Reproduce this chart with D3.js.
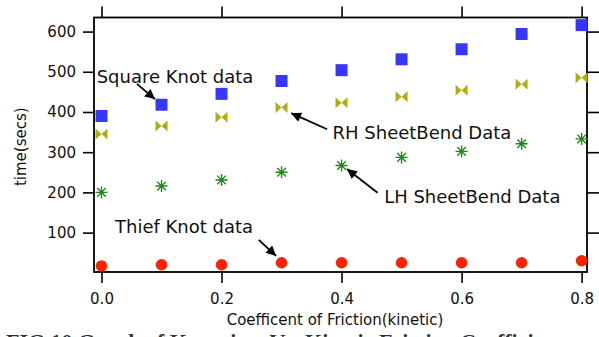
<!DOCTYPE html>
<html>
<head>
<meta charset="utf-8">
<script src="https://cdn.jsdelivr.net/npm/d3@7"></script>
<style>
  body { margin: 0; background: #fff; }
  svg { display: block; }
  text { font-family: "DejaVu Sans", sans-serif; }
</style>
</head>
<body>
<div id="chart"></div>
<script>
// knot time vs coefficient of friction

var coeff = [0.0, 0.1, 0.2, 0.3, 0.4, 0.5, 0.6, 0.7, 0.8];
var squareKnot = [390, 418, 445, 477, 504, 531, 556, 594, 616];
var rhSheetBend = [345, 365, 387, 411, 423, 438, 454, 469, 485];
var lhSheetBend = [200, 216, 231, 250, 267, 287, 302, 321, 333];
var thiefKnot = [17, 20, 20, 25, 25, 25, 25, 25, 30];

var xTicks = [0.0, 0.2, 0.4, 0.6, 0.8];
var yTicks = [100, 200, 300, 400, 500, 600];

// labels + arrows, in data units
var notes = [
  { text: "Square Knot data", x: -0.008, y: 472, from: [0.059, 470], to: [0.089, 432] },
  { text: "RH SheetBend Data", x: 0.385, y: 334, from: [0.376, 357], to: [0.316, 397] },
  { text: "LH SheetBend Data", x: 0.471, y: 173, from: [0.46, 199], to: [0.409, 258] },
  { text: "Thief Knot data", x: 0.0225, y: 98, from: [0.262, 82], to: [0.291, 42] }
];

var svgWidth = 599;
var svgHeight = 337;

var plot = { left: 94, right: 587, top: 17.5, bottom: 272 };

var svg = d3.select("#chart")
  .append("svg")
  .attr("width", svgWidth)
  .attr("height", svgHeight);

var x = d3.scaleLinear()
  .domain([-0.0125, 0.809])
  .range([plot.left, plot.right]);

var y = d3.scaleLinear()
  .domain([2, 635])
  .range([plot.bottom, plot.top]);

// axes
var bottomAxis = d3.axisBottom(x).tickValues(xTicks).tickSize(11).tickPadding(10).tickFormat(d3.format(".1f"));
var topAxis = d3.axisTop(x).tickValues(xTicks).tickSize(11).tickFormat("");
var leftAxis = d3.axisLeft(y).tickValues(yTicks).tickSize(11).tickPadding(7).tickFormat(d3.format("d"));
var rightAxis = d3.axisRight(y).tickValues(yTicks).tickSize(13).tickFormat("");

function styleAxis(g) {
  g.select(".domain").remove();
  g.selectAll(".tick line").attr("stroke", "#000").attr("stroke-width", 1.6);
  g.selectAll(".tick text")
    .attr("fill", "#111")
    .style("font-family", "DejaVu Sans, sans-serif")
    .style("font-size", "15px");
}

svg.append("g").attr("transform", `translate(0, ${plot.bottom})`).call(bottomAxis).call(styleAxis);
svg.append("g").attr("transform", `translate(0, ${plot.top})`).call(topAxis).call(styleAxis);
svg.append("g").attr("transform", `translate(${plot.left}, 0)`).call(leftAxis).call(styleAxis);
svg.append("g").attr("transform", `translate(${plot.right}, 0)`).call(rightAxis).call(styleAxis);

// frame
svg.append("rect")
  .attr("x", plot.left)
  .attr("y", plot.top)
  .attr("width", plot.right - plot.left)
  .attr("height", plot.bottom - plot.top)
  .attr("fill", "none")
  .attr("stroke", "#000")
  .attr("stroke-width", 1.8);

// axis titles
svg.append("text")
  .attr("x", 335)
  .attr("y", 325)
  .attr("text-anchor", "middle")
  .attr("font-size", "15px")
  .attr("fill", "#111")
  .text("Coefficent of Friction(kinetic)");

svg.append("text")
  .attr("transform", `translate(26, ${(plot.top + plot.bottom) / 2 + 2}) rotate(-90)`)
  .attr("text-anchor", "middle")
  .attr("font-size", "15px")
  .attr("fill", "#111")
  .text("time(secs)");

// markers
var bowtie = "M-6,-5.5 L0,0 L-6,5.5 Z M6,-5.5 L0,0 L6,5.5 Z";
var star = "M-6,0 L6,0 M0,-6 L0,6 M-4.3,-4.3 L4.3,4.3 M-4.3,4.3 L4.3,-4.3";

function pts(vals) {
  return vals.map(function(v, i) { return { c: coeff[i], v: v }; });
}

svg.append("g").selectAll("path")
  .data(pts(squareKnot))
  .enter()
  .append("path")
  .attr("d", d3.symbol().type(d3.symbolSquare).size(144))
  .attr("transform", d => `translate(${x(d.c)}, ${y(d.v)})`)
  .attr("fill", "#3636ff");

svg.append("g").selectAll("path")
  .data(pts(rhSheetBend))
  .enter()
  .append("path")
  .attr("d", bowtie)
  .attr("transform", d => `translate(${x(d.c)}, ${y(d.v)})`)
  .attr("fill", "#b3ac10");

svg.append("g").selectAll("path")
  .data(pts(lhSheetBend))
  .enter()
  .append("path")
  .attr("d", star)
  .attr("transform", d => `translate(${x(d.c)}, ${y(d.v)})`)
  .attr("fill", "none")
  .attr("stroke", "#1b8a1b")
  .attr("stroke-width", 1.4);

svg.append("g").selectAll("path")
  .data(pts(thiefKnot))
  .enter()
  .append("path")
  .attr("d", d3.symbol().type(d3.symbolCircle).size(106))
  .attr("transform", d => `translate(${x(d.c)}, ${y(d.v)})`)
  .attr("fill", "#ff2200");

// annotations
svg.append("defs").append("marker")
  .attr("id", "head")
  .attr("viewBox", "0 0 10 10")
  .attr("refX", 10)
  .attr("refY", 5)
  .attr("markerWidth", 7)
  .attr("markerHeight", 5.5)
  .attr("markerUnits", "strokeWidth")
  .attr("orient", "auto")
  .append("path")
  .attr("d", "M0,0 L10,5 L0,10 Z")
  .attr("fill", "#000");

svg.append("g").selectAll("line")
  .data(notes)
  .enter()
  .append("line")
  .attr("x1", d => x(d.from[0]))
  .attr("y1", d => y(d.from[1]))
  .attr("x2", d => x(d.to[0]))
  .attr("y2", d => y(d.to[1]))
  .attr("stroke", "#000")
  .attr("stroke-width", 1.8)
  .attr("marker-end", "url(#head)");

svg.append("g").selectAll("text")
  .data(notes)
  .enter()
  .append("text")
  .attr("x", d => x(d.x))
  .attr("y", d => y(d.y))
  .attr("font-size", "18px")
  .attr("fill", "#111")
  .text(d => d.text);

// figure caption, cut off by the bottom edge
svg.append("text")
  .attr("x", 6)
  .attr("y", 349)
  .attr("font-weight", "bold")
  .attr("font-size", "22px")
  .attr("fill", "#333")
  .style("font-family", "Liberation Serif, serif")
  .text("FIG 10 Graph of Knot time Vs. Kinetic Friction Coefficient");
</script>
</body>
</html>
